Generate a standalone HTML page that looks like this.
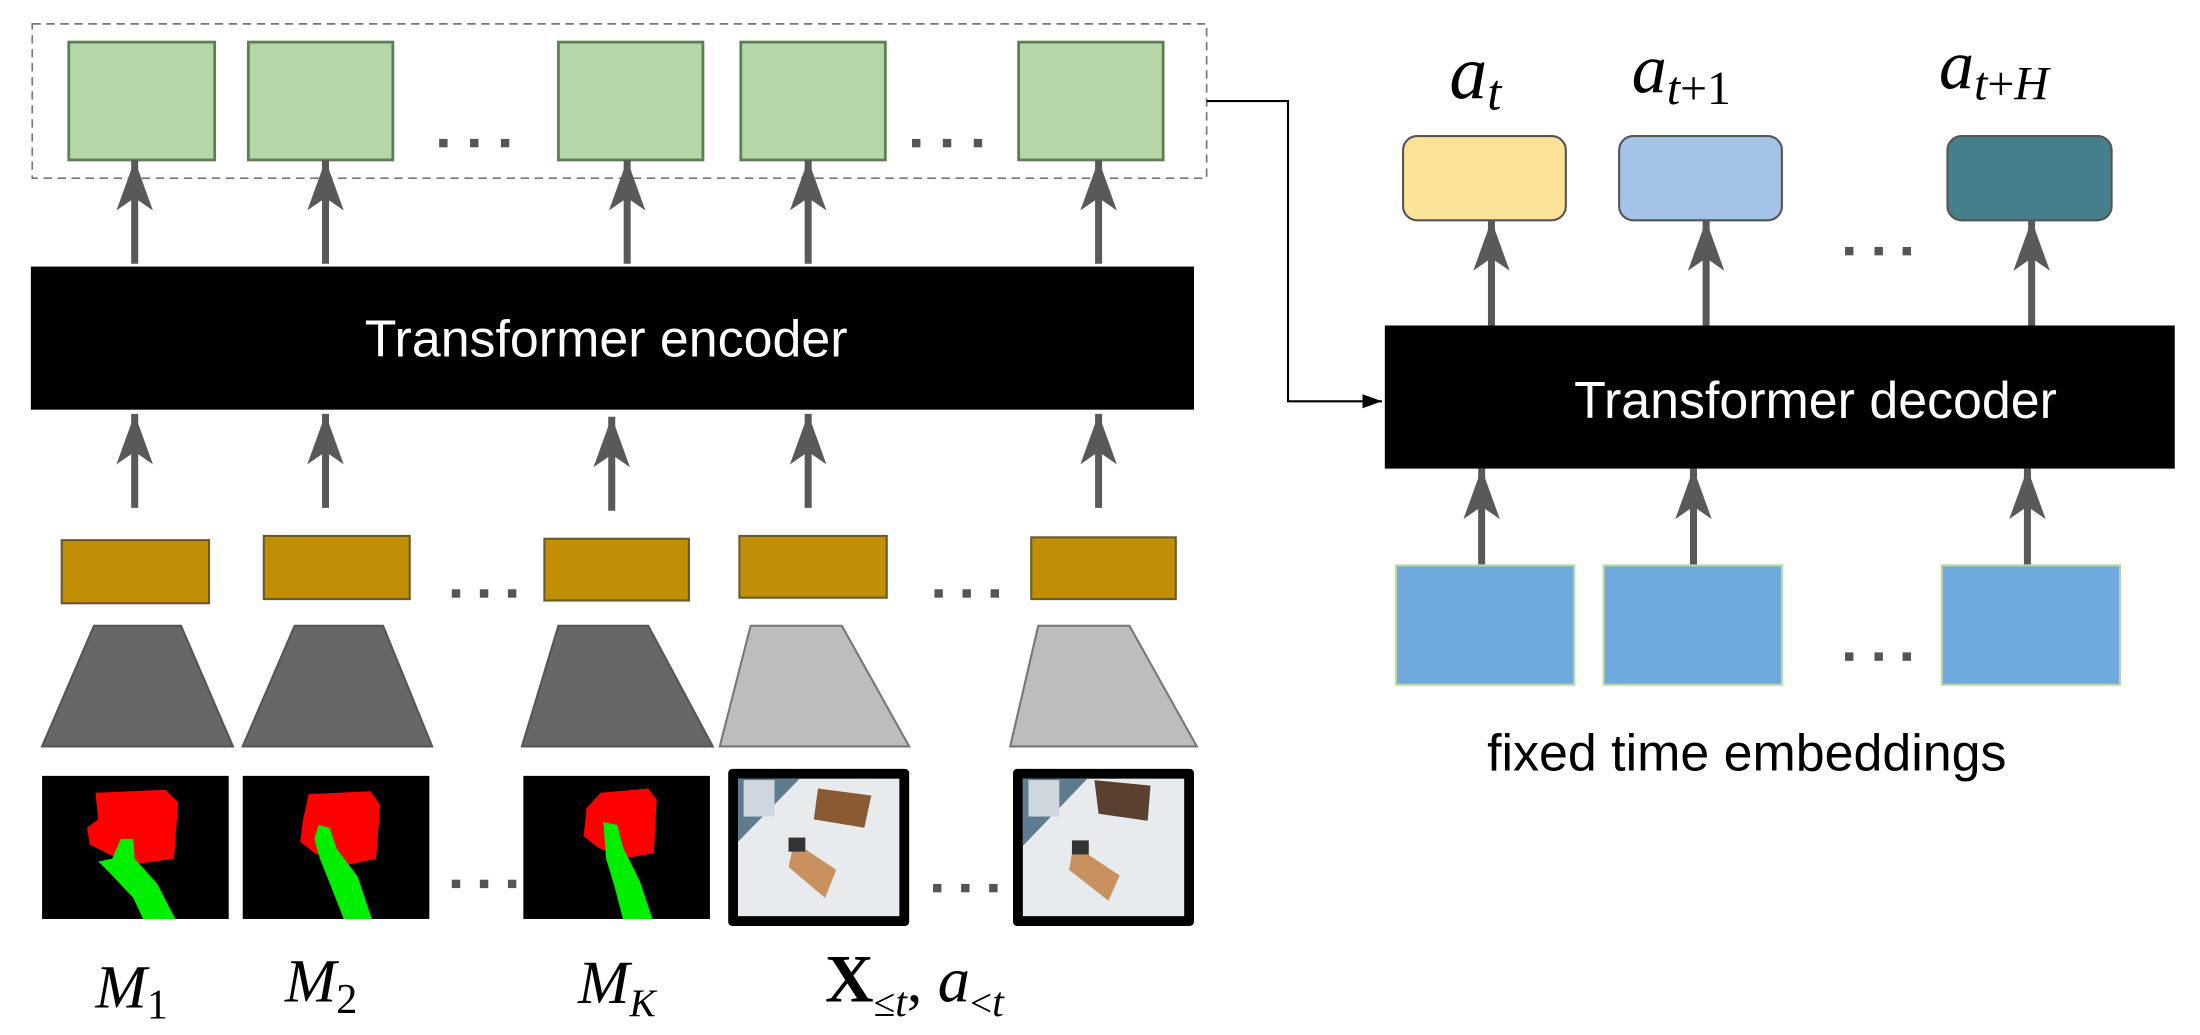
<!DOCTYPE html>
<html><head><meta charset="utf-8"><style>
html,body{margin:0;padding:0;background:#fff;}
svg{display:block;}
</style></head><body>
<svg width="2200" height="1035" viewBox="0 0 1568 737.7" preserveAspectRatio="none" xmlns="http://www.w3.org/2000/svg">
<defs>
<marker id="ah" viewBox="0 0 36 26" refX="36" refY="13" markerWidth="36" markerHeight="26" markerUnits="userSpaceOnUse" orient="auto">
<path d="M0,0 L36,13 L0,26 L9,13 z" fill="#595959"/></marker>
<marker id="bh" viewBox="0 0 14 10" refX="14" refY="5" markerWidth="14" markerHeight="10" markerUnits="userSpaceOnUse" orient="auto">
<path d="M0,0 L14,5 L0,10 z" fill="#000"/></marker>
</defs>
<rect width="1568" height="737.7" fill="#fff"/>

<rect x="23" y="17" width="837" height="110" fill="none" stroke="#777" stroke-width="1.2" stroke-dasharray="6,4"/>
<g fill="#b6d7a8" stroke="#5e7f55" stroke-width="2">
<rect x="49" y="30" width="104" height="84"/>
<rect x="177" y="30" width="103" height="84"/>
<rect x="398" y="30" width="103" height="84"/>
<rect x="528" y="30" width="103" height="84"/>
<rect x="726" y="30" width="103" height="84"/>
</g>
<g fill="#555">
<rect x="313" y="99" width="6" height="6"/><rect x="335" y="99" width="6" height="6"/><rect x="357" y="99" width="6" height="6"/>
<rect x="650" y="99" width="6" height="6"/><rect x="672" y="99" width="6" height="6"/><rect x="694" y="99" width="6" height="6"/>
</g>

<g stroke="#595959" stroke-width="5" marker-end="url(#ah)">
<line x1="96" y1="188" x2="96" y2="114"/>
<line x1="232" y1="188" x2="232" y2="114"/>
<line x1="447" y1="188" x2="447" y2="114"/>
<line x1="576" y1="188" x2="576" y2="114"/>
<line x1="783" y1="188" x2="783" y2="114"/>
</g>

<rect x="22" y="190" width="829" height="102" fill="#000"/>
<text x="432" y="254" text-anchor="middle" font-family="Liberation Sans, sans-serif" font-size="37" fill="#fff">Transformer encoder</text>

<g stroke="#595959" stroke-width="5" marker-end="url(#ah)">
<line x1="96" y1="362" x2="96" y2="295"/>
<line x1="232" y1="362" x2="232" y2="295"/>
<line x1="436" y1="364" x2="436" y2="297"/>
<line x1="576" y1="362" x2="576" y2="295"/>
<line x1="783" y1="362" x2="783" y2="295"/>
</g>

<g fill="#c08f05" stroke="#6a5a2a" stroke-width="1.5">
<rect x="44" y="385" width="105" height="45"/>
<rect x="188" y="382" width="104" height="45"/>
<rect x="388" y="384" width="103" height="44"/>
<rect x="527" y="382" width="105" height="44"/>
<rect x="735" y="383" width="103" height="44"/>
</g>
<g fill="#555">
<rect x="322" y="420" width="6" height="6"/><rect x="342" y="420" width="6" height="6"/><rect x="362" y="420" width="6" height="6"/>
<rect x="666" y="420" width="6" height="6"/><rect x="686" y="420" width="6" height="6"/><rect x="706" y="420" width="6" height="6"/>
</g>

<g stroke="#555" stroke-width="1.5">
<polygon points="67,446 129,446 166,532 30,532" fill="#676767"/>
<polygon points="210,446 273,446 308,532 173,532" fill="#676767"/>
<polygon points="398,446 462,446 508,532 372,532" fill="#676767"/>
<polygon points="535,446 600,446 648,532 513,532" fill="#bdbdbd" stroke="#777"/>
<polygon points="740,446 805,446 853,532 720,532" fill="#bdbdbd" stroke="#777"/>
</g>

<g>
<rect x="30" y="553" width="133" height="102" fill="#000"/>
<polygon points="68,565 118,563 127,572 124,612 96,616 80,610 64,602 62,590 70,584" fill="#ff0000"/>
<polygon points="86,598 95,598 96,612 112,630 125,655 102,655 95,640 78,622 70,614 80,612" fill="#00ee00"/>
<rect x="173" y="553" width="133" height="102" fill="#000"/>
<polygon points="220,566 264,564 271,574 268,612 245,617 224,608 214,600 216,584" fill="#ff0000"/>
<polygon points="227,588 235,590 240,605 255,625 265,655 245,655 236,632 228,612 224,598" fill="#00ee00"/>
<rect x="373" y="553" width="133" height="102" fill="#000"/>
<polygon points="428,565 462,562 468,570 466,608 444,612 426,604 416,596 418,576" fill="#ff0000"/>
<polygon points="430,586 440,588 444,604 456,628 465,655 444,655 438,632 432,612" fill="#00ee00"/>
</g>
<g fill="#555">
<rect x="322" y="627" width="6" height="6"/><rect x="342" y="627" width="6" height="6"/><rect x="362" y="627" width="6" height="6"/>
<rect x="665" y="630" width="6" height="6"/><rect x="685" y="630" width="6" height="6"/><rect x="705" y="630" width="6" height="6"/>
</g>

<g>
<rect x="519" y="548" width="129" height="112" rx="3" fill="#000"/>
<rect x="526" y="555" width="115" height="98" fill="#e8ebee"/>
<polygon points="526,555 570,555 526,600" fill="#5f7c8f"/>
<rect x="530" y="556" width="22" height="26" fill="#cfd6de"/>
<polygon points="583,562 621,567 616,590 580,584" fill="#8a5a32"/>
<polygon points="566,600 596,620 588,640 562,618" fill="#c99060"/>
<rect x="562" y="597" width="12" height="10" fill="#333"/>
<rect x="722" y="548" width="129" height="112" rx="3" fill="#000"/>
<rect x="729" y="555" width="115" height="98" fill="#e8ebee"/>
<polygon points="729,555 775,555 729,603" fill="#5f7c8f"/>
<rect x="733" y="556" width="22" height="26" fill="#cfd6de"/>
<polygon points="780,556 820,560 818,585 783,580" fill="#5a4030"/>
<polygon points="765,602 798,624 790,642 762,620" fill="#c99060"/>
<rect x="764" y="599" width="12" height="10" fill="#333"/>
</g>

<g font-family="Liberation Serif, serif" fill="#000">
<text x="68" y="718" font-size="44" font-style="italic">M<tspan font-size="30" font-style="normal" dy="8">1</tspan></text>
<text x="203" y="714" font-size="44" font-style="italic">M<tspan font-size="30" font-style="normal" dy="8">2</tspan></text>
<text x="412" y="715" font-size="44" font-style="italic">M<tspan font-size="28" dy="9">K</tspan></text>
<text x="588" y="714" font-size="48" font-weight="bold">X<tspan font-size="28" font-weight="normal" dy="10">≤</tspan><tspan font-size="30" font-weight="normal" font-style="italic">t</tspan><tspan font-size="44" font-weight="normal" dy="-10">, </tspan><tspan font-size="46" font-weight="normal" font-style="italic">a</tspan><tspan font-size="28" font-weight="normal" dy="10">&lt;</tspan><tspan font-size="30" font-weight="normal" font-style="italic">t</tspan></text>
</g>

<polyline points="860,72 918,72 918,286 985,286" fill="none" stroke="#000" stroke-width="1.5" marker-end="url(#bh)"/>

<g stroke="#595959" stroke-width="5" marker-end="url(#ah)">
<line x1="1063" y1="232" x2="1063" y2="157"/>
<line x1="1216" y1="232" x2="1216" y2="157"/>
<line x1="1448" y1="232" x2="1448" y2="157"/>
<line x1="1056" y1="403" x2="1056" y2="334"/>
<line x1="1207" y1="403" x2="1207" y2="334"/>
<line x1="1445" y1="403" x2="1445" y2="334"/>
</g>
<rect x="987" y="232" width="563" height="102" fill="#000"/>
<text x="1294" y="298" text-anchor="middle" font-family="Liberation Sans, sans-serif" font-size="37" fill="#fff">Transformer decoder</text>

<rect x="1000" y="97" width="116" height="60" rx="10" fill="#fde398" stroke="#555" stroke-width="1.5"/>
<rect x="1154" y="97" width="116" height="60" rx="10" fill="#a3c4e8" stroke="#555" stroke-width="1.5"/>
<rect x="1388" y="97" width="117" height="60" rx="10" fill="#467f8c" stroke="#555" stroke-width="1.5"/>

<g fill="#555">
<rect x="1315" y="176" width="6" height="6"/><rect x="1336" y="176" width="6" height="6"/><rect x="1356" y="176" width="6" height="6"/>
<rect x="1315" y="465" width="6" height="6"/><rect x="1336" y="465" width="6" height="6"/><rect x="1356" y="465" width="6" height="6"/>
</g>

<g fill="#6fa8dc" stroke="#b9d7a0" stroke-width="1.5">
<rect x="995" y="403" width="127" height="85"/>
<rect x="1143" y="403" width="127" height="85"/>
<rect x="1384" y="403" width="127" height="85"/>
</g>

<g font-family="Liberation Serif, serif" fill="#000" font-style="italic">
<text x="1033" y="70" font-size="54">a<tspan font-size="36" dy="8">t</tspan></text>
<text x="1163" y="66" font-size="50">a<tspan font-size="34" dy="8">t</tspan><tspan font-size="34" font-style="normal">+1</tspan></text>
<text x="1382" y="63" font-size="50">a<tspan font-size="34" dy="8">t</tspan><tspan font-size="34" font-style="normal">+</tspan><tspan font-size="34">H</tspan></text>
</g>

<text x="1245" y="549" text-anchor="middle" font-family="Liberation Sans, sans-serif" font-size="37" fill="#000">fixed time embeddings</text>
</svg>
</body></html>
